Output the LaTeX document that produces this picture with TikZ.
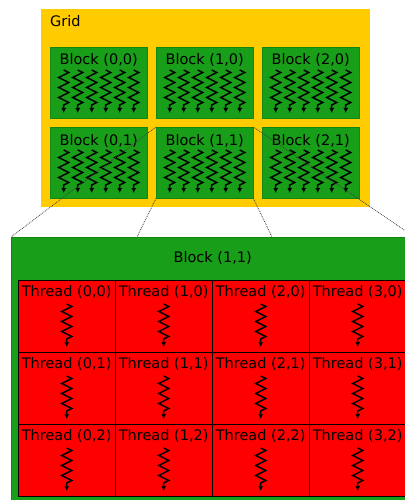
\documentclass[tikz,border=0pt]{standalone}
\usepackage{fontspec}
\setsansfont{DejaVu Sans}
\usetikzlibrary{decorations.pathmorphing,arrows.meta}

\definecolor{gridyellow}{RGB}{255,204,0}
\definecolor{blockgreen}{RGB}{24,158,24}
\definecolor{threadred}{RGB}{255,0,0}

\tikzstyle{every node}=[font={\sffamily\fontsize{14.5}{16}\selectfont}, inner sep=0pt]
\tikzstyle{gridbox}=[fill=gridyellow, anchor=north west, minimum width=329pt, minimum height=198pt]
\tikzstyle{blockbox}=[draw=blockgreen!85!black, fill=blockgreen, anchor=north west, minimum width=97pt, minimum height=71pt]
\tikzstyle{threadbox}=[draw=black, fill=threadred, anchor=north west, minimum width=97pt, minimum height=72pt]
\tikzstyle{warp}=[line width=1.5pt, -{Latex[length=5pt,width=5pt]}, decorate, decoration={zigzag, segment length=10pt, amplitude=5pt, post length=4pt}]
\tikzstyle{zoomline}=[densely dotted, line width=0.8pt, black!75]

\begin{document}
\begin{tikzpicture}[x=1pt, y=-1pt]
    \useasboundingbox (0,0) rectangle (404,500);
    % the grid of blocks
    \node [gridbox] (grid) at (41,9) {};
    \node [anchor=base west] (gridlbl) at (50,27) {Grid};
    \foreach \i/\x in {0/50, 1/156, 2/262} {
        \foreach \j/\y in {0/47, 1/127} {
            \node [blockbox] (blk\i\j) at (\x,\y) {};
            \node [anchor=base] (blklbl\i\j) at ([yshift=-18pt]blk\i\j.north) {Block (\i,\j)};
            \foreach \k in {-35,-21,-7,7,21,35}
                \draw [warp] ([xshift=\k pt, yshift=-23pt]blk\i\j.north) -- ++(0,43);
        }
    }
    % one block, zoomed in
    \node [blockbox, minimum width=403pt, minimum height=270pt] (blk) at (11,237) {};
    \node [anchor=base] (blklbl) at ([yshift=-25pt]blk.north) {Block (1,1)};
    \foreach \i in {0,...,3} {
        \foreach \j in {0,1,2} {
            \node [threadbox] (thr\i\j) at ({18+97*\i},{280+72*\j}) {};
            \node [anchor=base] (thrlbl\i\j) at ([yshift=-16pt]thr\i\j.north) {Thread (\i,\j)};
            \draw [warp] ([yshift=-24pt]thr\i\j.north) -- ++(0,43);
        }
    }
    % zoom lines
    \coordinate (cutl) at (137,237);
    \coordinate (cutr) at (272,237);
    \draw [zoomline] (blk11.north west) -- (blk.north west);
    \draw [zoomline] (blk11.south west) -- (cutl);
    \draw [zoomline] (blk11.south east) -- (cutr);
    \draw [zoomline] (blk11.north east) -- (blk.north east);
\end{tikzpicture}
\end{document}
